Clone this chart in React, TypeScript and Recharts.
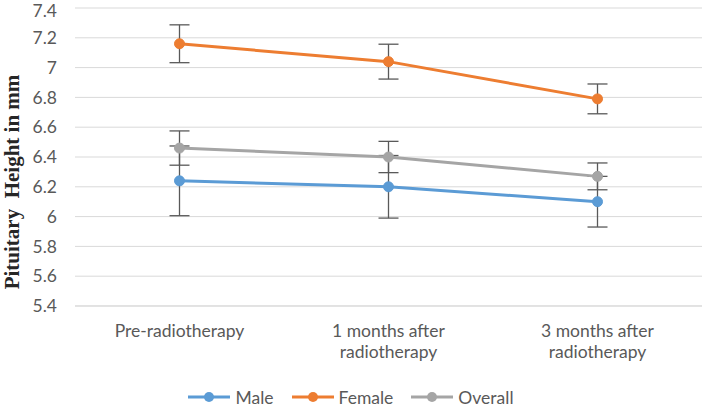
import React from 'react';
import { LineChart, Line, XAxis, YAxis, CartesianGrid, Legend, ErrorBar } from 'recharts';

// time points and their wrapped tick labels
const categories = ['Pre-radiotherapy', '1 months after radiotherapy', '3 months after radiotherapy'];
const tickLines = [['Pre-radiotherapy'], ['1 months after', 'radiotherapy'], ['3 months after', 'radiotherapy']];

// mean pituitary height (mm) and error bar half-lengths
const male = [6.24, 6.2, 6.1];
const maleErr = [0.234, 0.21, 0.17];
const female = [7.16, 7.04, 6.79];
const femaleErr = [0.127, 0.117, 0.1];
const overall = [6.46, 6.4, 6.27];
const overallErr = [0.115, 0.105, 0.09];

const yTicks = [5.4, 5.6, 5.8, 6, 6.2, 6.4, 6.6, 6.8, 7, 7.2, 7.4];

const series = [
  { key: 'male', name: 'Male', color: '#5B9BD5' },
  { key: 'female', name: 'Female', color: '#ED7D31' },
  { key: 'overall', name: 'Overall', color: '#A5A5A5' },
];

const data = categories.map((c, i) => ({
  name: c,
  male: male[i],
  maleErr: maleErr[i],
  female: female[i],
  femaleErr: femaleErr[i],
  overall: overall[i],
  overallErr: overallErr[i],
}));

const FONT = 'Lato, "Liberation Sans", sans-serif';
const TEXT = '#595959';

const XTick = (props: any) => {
  const { x, y, payload } = props;
  const lines = tickLines[payload.index] || [payload.value];
  return (
    <text x={x} y={y} textAnchor="middle" fill={TEXT} fontFamily={FONT} fontSize={17.5}>
      {lines.map((l, i) => (
        <tspan key={i} x={x} dy={i === 0 ? 31 : 20.7}>
          {l}
        </tspan>
      ))}
    </text>
  );
};

const YLabel = () => (
  <text
    x={12}
    y={182}
    transform="rotate(-90 12 182)"
    textAnchor="middle"
    dominantBaseline="central"
    fontFamily='"Liberation Serif", "Times New Roman", serif'
    fontWeight="bold"
    fontSize={21}
    fill="#262626"
    style={{ whiteSpace: 'pre' }}
  >
    {'Pituitary  Height in mm'}
  </text>
);

const LegendContent = () => (
  <div
    style={{
      display: 'flex',
      justifyContent: 'center',
      alignItems: 'center',
      height: 30,
      paddingTop: 4,
      fontFamily: FONT,
      fontSize: 17.5,
      color: TEXT,
    }}
  >
    {series.map((s) => (
      <div key={s.key} style={{ display: 'flex', alignItems: 'center', margin: '0 9px' }}>
        <svg width={42} height={12} style={{ marginRight: 5 }}>
          <line x1={0} y1={6} x2={42} y2={6} stroke={s.color} strokeWidth={3} />
          <circle cx={21} cy={6} r={5} fill={s.color} />
        </svg>
        <span>{s.name}</span>
      </div>
    ))}
  </div>
);

export default function App() {
  return (
    <div style={{ position: 'absolute', left: 0, top: 0, background: '#fff' }}>
      <LineChart width={702} height={408} data={data} margin={{ top: 8, right: 0, left: 0, bottom: 0 }}>
        <CartesianGrid vertical={false} stroke="#d9d9d9" strokeWidth={1} />
        <XAxis
          dataKey="name"
          axisLine={{ stroke: '#d9d9d9' }}
          tickLine={false}
          tickSize={0}
          tickMargin={0}
          height={72}
          interval={0}
          padding={{ left: 104.5, right: 104.5 }}
          tick={<XTick />}
        />
        <YAxis
          domain={[5.4, 7.4]}
          ticks={yTicks}
          width={75}
          axisLine={false}
          tickLine={false}
          tickSize={0}
          tickMargin={18}
          tick={{ fill: TEXT, fontFamily: FONT, fontSize: 17.5 }}
          tickFormatter={(v: number) => String(Number(v.toFixed(1)))}
          label={<YLabel />}
        />
        <Legend verticalAlign="bottom" height={30} content={<LegendContent />} />
        {series.map((s) => (
          <Line
            key={s.key}
            type="linear"
            dataKey={s.key}
            name={s.name}
            stroke={s.color}
            strokeWidth={3}
            dot={{ r: 5, fill: s.color, stroke: s.color, strokeWidth: 1 }}
            activeDot={false}
            isAnimationActive={false}
          >
            <ErrorBar
              dataKey={`${s.key}Err`}
              width={10}
              stroke="#595959"
              strokeWidth={1.3}
              direction="y"
              isAnimationActive={false}
            />
          </Line>
        ))}
      </LineChart>
    </div>
  );
}
